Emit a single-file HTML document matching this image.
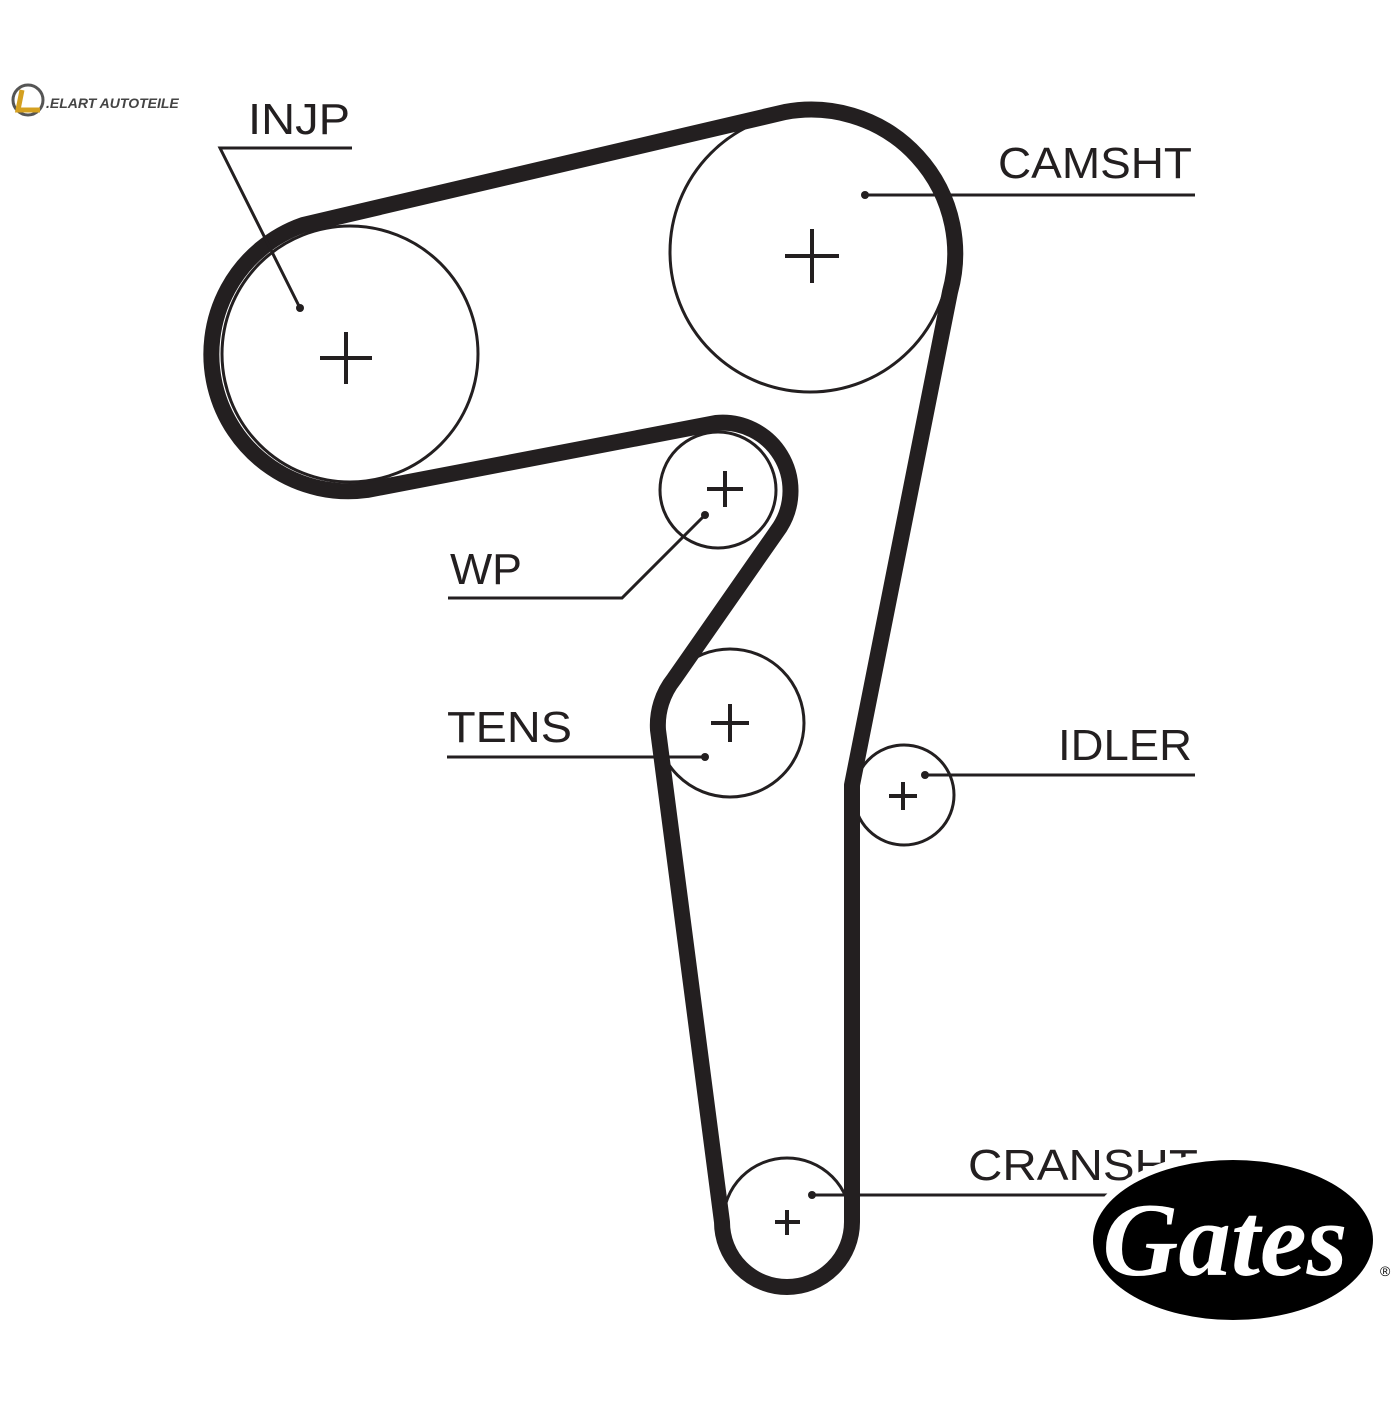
<!DOCTYPE html>
<html><head><style>html,body{margin:0;padding:0;background:#fff}</style></head>
<body>
<svg width="1400" height="1400" viewBox="0 0 1400 1400" xmlns="http://www.w3.org/2000/svg">
<rect width="1400" height="1400" fill="#fff"/>
<g fill="none" stroke="#231f20" stroke-width="3">
<circle cx="350" cy="354" r="128"/>
<circle cx="810" cy="252" r="140"/>
<circle cx="718" cy="490" r="58"/>
<circle cx="730" cy="723" r="74"/>
<circle cx="904" cy="795" r="50"/>
<circle cx="787" cy="1222" r="64"/>
</g>
<path d="M303,225 L785,112 A144 144 0 0 1 950,292 L852,785 L852,1222 A65 65 0 0 1 722,1222 L658,730 A74 74 0 0 1 674,679 L780,527 A68 68 0 0 0 716,423 L367,490 A137 137 0 0 1 303,225 Z" fill="none" stroke="#231f20" stroke-width="16" stroke-linejoin="round"/>
<g stroke="#231f20" stroke-width="4">
<path d="M320,358h52M346,332v52"/>
<path d="M785,256h54M812,229v54"/>
<path d="M707,489h36M725,471v36"/>
<path d="M711,723h38M730,704v38"/>
<path d="M889,796h28M903,782v28"/>
<path d="M775,1222h25M787,1210v25"/>
</g>
<g stroke="#231f20" stroke-width="3" fill="none">
<path d="M352,148H220L300,308"/>
<path d="M1195,195H865"/>
<path d="M448,598H622L705,515"/>
<path d="M447,757H705"/>
<path d="M1195,775H925"/>
<path d="M1195,1195H812"/>
</g>
<g fill="#231f20">
<circle cx="300" cy="308" r="4"/><circle cx="865" cy="195" r="4"/>
<circle cx="705" cy="515" r="4"/><circle cx="705" cy="757" r="4"/>
<circle cx="925" cy="775" r="4"/><circle cx="812" cy="1195" r="4"/>
</g>
<g font-family="Liberation Sans, sans-serif" font-size="44" fill="#231f20" lengthAdjust="spacingAndGlyphs">
<text x="248" y="134" textLength="102" lengthAdjust="spacingAndGlyphs">INJP</text>
<text x="998" y="178" textLength="194" lengthAdjust="spacingAndGlyphs">CAMSHT</text>
<text x="450" y="584" textLength="72" lengthAdjust="spacingAndGlyphs">WP</text>
<text x="447" y="742" textLength="125" lengthAdjust="spacingAndGlyphs">TENS</text>
<text x="1058" y="760" textLength="134" lengthAdjust="spacingAndGlyphs">IDLER</text>
<text x="968" y="1180" textLength="230" lengthAdjust="spacingAndGlyphs">CRANSHT</text>
</g>
<ellipse cx="1233" cy="1240" rx="148" ry="88" fill="#fff"/>
<ellipse cx="1233" cy="1240" rx="140" ry="80" fill="#000"/>
<text x="1225" y="1275" text-anchor="middle" font-family="Liberation Serif, serif" font-style="italic" font-weight="bold" font-size="105" fill="#fff">Gates</text>
<text x="1380" y="1276" font-family="Liberation Sans, sans-serif" font-size="14" fill="#000">®</text>
<circle cx="28" cy="100" r="15" fill="none" stroke="#555" stroke-width="3"/>
<path d="M22,90 L18,110 H40" stroke="#d4a020" stroke-width="5" fill="none"/>
<text x="46" y="108" font-family="Liberation Sans, sans-serif" font-style="italic" font-weight="bold" font-size="14" fill="#444">.ELART AUTOTEILE</text>
</svg>
</body></html>
